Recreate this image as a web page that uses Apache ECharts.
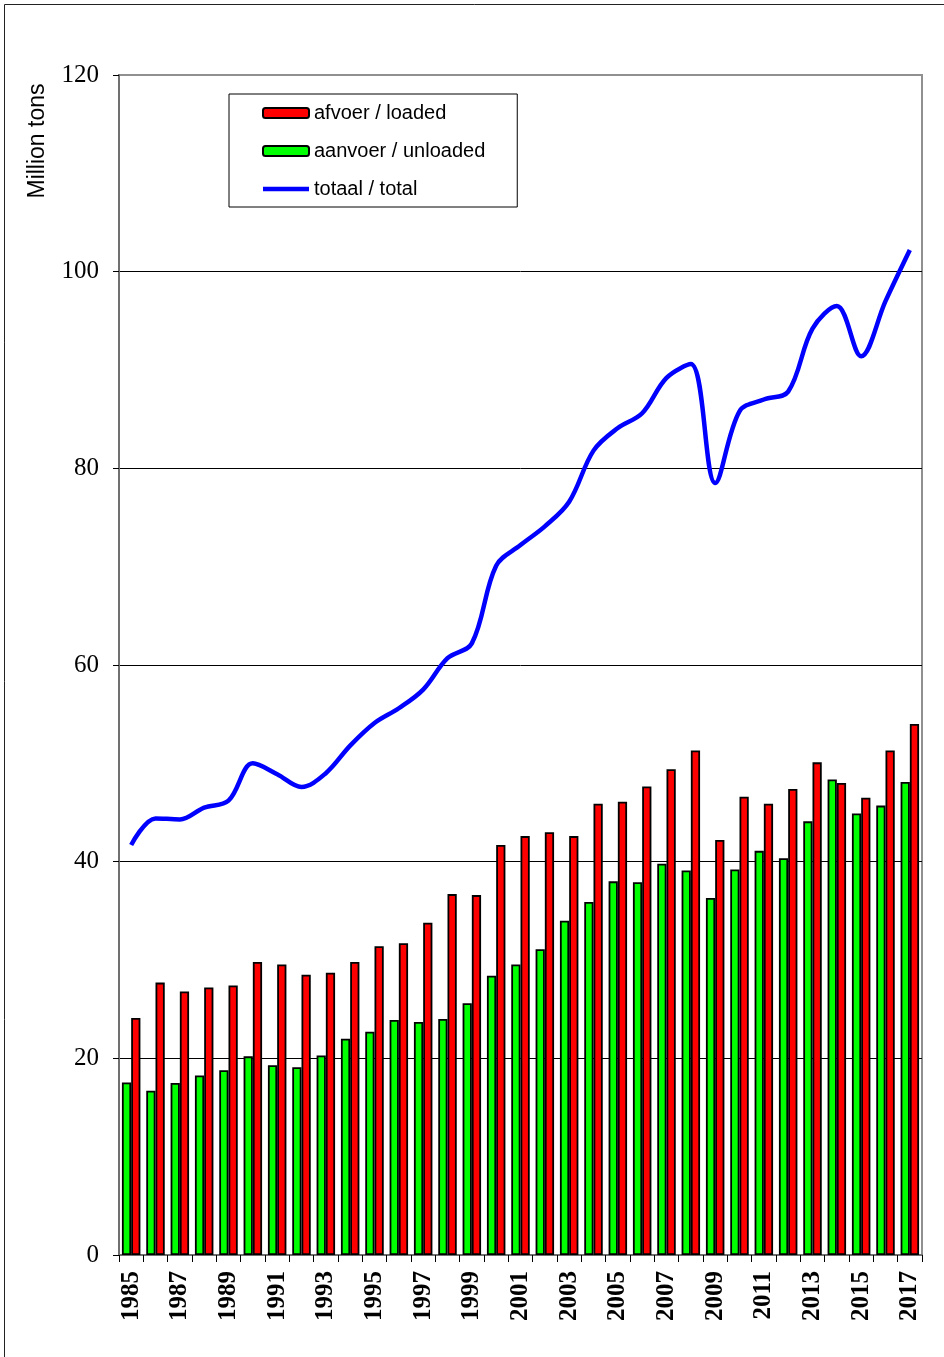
<!DOCTYPE html>
<html>
<head>
<meta charset="utf-8">
<script src="https://cdn.jsdelivr.net/npm/echarts@6/dist/echarts.min.js"></script>
<style>
html,body{margin:0;padding:0;background:#fff;}
#chart{width:944px;height:1357px;}
</style>
</head>
<body>
<div id="chart"></div>
<script>
const years = ['1985','1986','1987','1988','1989','1990','1991','1992','1993','1994','1995','1996','1997','1998','1999','2000','2001','2002','2003','2004','2005','2006','2007','2008','2009','2010','2011','2012','2013','2014','2015','2016','2017'];
const unloaded = [17.55,16.7,17.5,18.25,18.8,20.2,19.3,19.1,20.3,22.0,22.7,23.9,23.7,24.0,25.6,28.4,29.55,31.1,34.0,35.9,38.0,37.9,39.8,39.1,36.3,39.2,41.1,40.35,44.1,48.35,44.9,45.7,48.1];
const loaded = [24.1,27.7,26.8,27.2,27.4,29.8,29.55,28.5,28.7,29.8,31.4,31.7,33.8,36.7,36.6,41.7,42.6,43.0,42.6,45.9,46.1,47.65,49.4,51.3,42.2,46.6,45.9,47.4,50.1,48.0,46.5,51.3,54.0];
const total = [41.7,44.4,44.3,45.5,46.2,50.0,48.9,47.6,49.0,51.8,54.1,55.6,57.5,60.7,62.2,70.1,72.2,74.1,76.6,81.8,84.1,85.6,89.2,90.6,78.5,85.8,87.0,87.8,94.2,96.5,91.4,97.0,102.2];
const yTicks = [0,20,40,60,80,100,120];
const names = {loaded:'afvoer / loaded', unloaded:'aanvoer / unloaded', total:'totaal / total'};
const yTitle = 'Million tons';

const chart = echarts.init(document.getElementById('chart'), null, {renderer:'canvas'});
const axisGrey = '#707070';
chart.setOption({
  backgroundColor:'#ffffff',
  animation:false,
  grid:{left:119, right:22, top:75, bottom:102, show:true, borderColor:'#909090', borderWidth:2, backgroundColor:'transparent'},
  legend:{
    data:[names.loaded, names.unloaded, {name:names.total, icon:'path://M0,0H46V4.5H0Z'}],
    orient:'vertical', left:229, top:94,
    padding:[9,32,8,33],
    itemWidth:46, itemHeight:10, itemGap:18,
    backgroundColor:'#fff', borderColor:'#000', borderWidth:1,
    textStyle:{fontFamily:'Liberation Sans', fontSize:20, color:'#000', lineHeight:20}
  },
  xAxis:{
    type:'category', data:years, boundaryGap:true,
    axisLine:{lineStyle:{color:axisGrey, width:2}},
    axisTick:{show:true, interval:0, length:7, lineStyle:{color:'#000', width:1}},
    axisLabel:{interval:1, rotate:90, margin:16, fontFamily:'Liberation Serif', fontWeight:'bold', fontSize:25, color:'#000'},
    splitLine:{show:false}
  },
  yAxis:{
    type:'value', min:0, max:120, interval:20,
    axisLine:{show:true, lineStyle:{color:axisGrey, width:2}},
    axisTick:{show:true, length:6, lineStyle:{color:'#000', width:1}},
    axisLabel:{margin:20, fontFamily:'Liberation Serif', fontSize:25, color:'#000', formatter:v=>yTicks.includes(v)?String(v):''},
    splitLine:{show:true, lineStyle:{color:['#000','#000','#000','#000','#000','#000','#909090'], width:1}}
  },
  graphic:[
    {type:'rect', shape:{x:4.5, y:4.5, width:1200, height:1600}, style:{fill:'none', stroke:'#222', lineWidth:1}, silent:true, z:-1},
    {type:'text', x:38, y:141, rotation:Math.PI/2, style:{text:yTitle, fontFamily:'Liberation Sans', fontSize:23, fill:'#000', align:'center', verticalAlign:'middle'}}
  ],
  series:[
    {name:names.unloaded, type:'bar', data:unloaded, barGap:'0%', barCategoryGap:'24%',
     itemStyle:{color:'#00ff00', borderColor:'#000', borderWidth:1.8}},
    {name:names.loaded, type:'bar', data:loaded, barGap:'0%', barCategoryGap:'24%',
     itemStyle:{color:'#ff0000', borderColor:'#000', borderWidth:1.8}},
    {name:names.total, type:'line', data:total, smooth:0.35, symbol:'none', showSymbol:false, symbolKeepAspect:true,
     lineStyle:{color:'#0000ff', width:4.5}, itemStyle:{color:'#0000ff'}, z:5}
  ]
});
</script>
</body>
</html>
